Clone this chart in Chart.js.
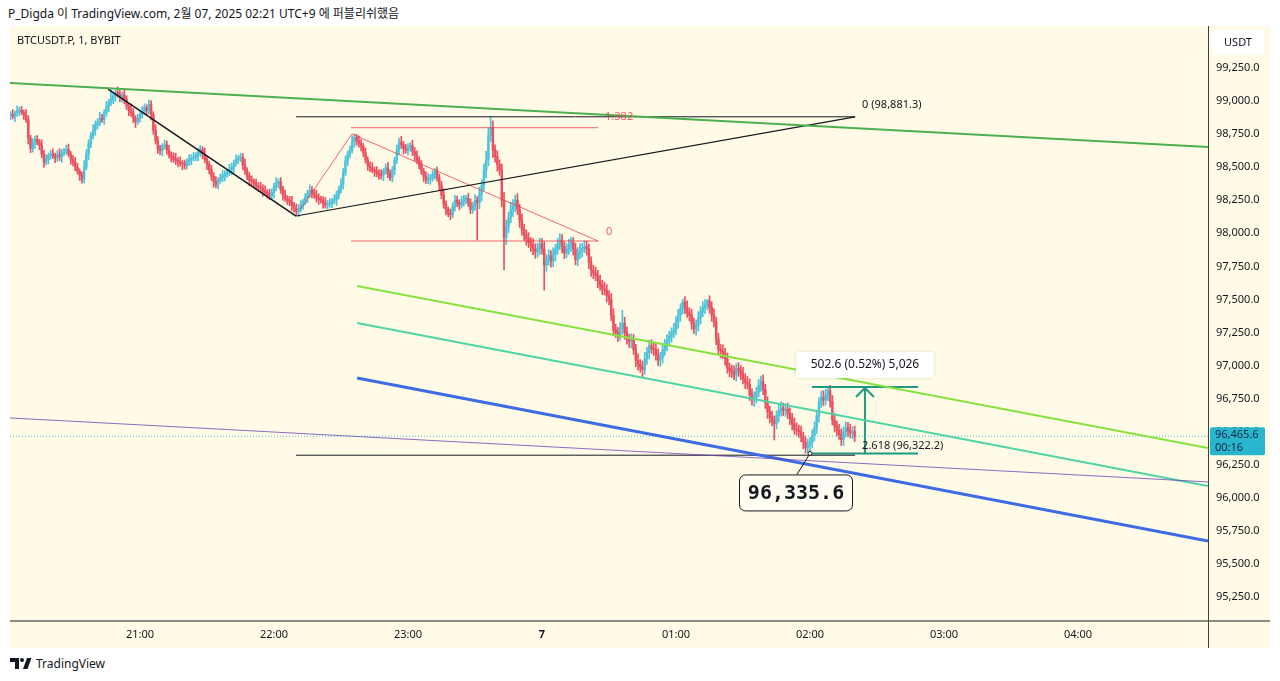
<!DOCTYPE html>
<html lang="ko">
<head>
<meta charset="UTF-8">
<title>BTCUSDT.P, 1, BYBIT</title>
<script src="https://cdn.jsdelivr.net/npm/chart.js@4.4.1/dist/chart.umd.min.js"></script>
<style>
  body { margin: 0; background: #fff; width: 1280px; height: 681px; position: relative; overflow: hidden;
         font-family: "Noto Sans", "Noto Sans CJK KR", sans-serif; color: #131722; }
  #hdr { position: absolute; left: 8px; top: 4px; font-size: 12px; white-space: nowrap; }
  #box { position: absolute; left: 10px; top: 26px; width: 1260px; height: 622px; }
  #sym { position: absolute; left: 17px; top: 32px; font-size: 11px; white-space: nowrap; }
  #foot { position: absolute; left: 10px; top: 655px; font-size: 12px; display: flex; align-items: center; gap: 4px; }
</style>
</head>
<body>
<div id="hdr">P_Digda 이 TradingView.com, 2월 07, 2025 02:21 UTC+9 에 퍼블리쉬했음</div>
<div id="box"><canvas id="c" width="1260" height="622"></canvas></div>
<div id="sym">BTCUSDT.P, 1, BYBIT</div>
<div id="foot">
  <svg width="22" height="11" viewBox="0 0 22 11"><path d="M0 0h9v11h-4v-7h-5z" fill="#131722"/><circle cx="12" cy="2" r="2" fill="#131722"/><path d="M13 11l4-11h4.5l-4 11z" fill="#131722"/></svg>
  <span>TradingView</span>
</div>
<script>
// minutes since 20:00; first candle at 20:02, one candle per minute
const startMinute = 2;
const firstOpen = 98890;
const closes = [
  98900, 98885, 98910, 98925, 98930, 98915, 98890, 98860, 98720, 98640,
  98680, 98710, 98690, 98665, 98600, 98540, 98560, 98590, 98600, 98585,
  98570, 98595, 98580, 98610, 98625, 98635, 98600, 98560, 98540, 98500,
  98470, 98440, 98410, 98500, 98600, 98680, 98740, 98780, 98820, 98840,
  98870, 98860, 98915, 98960, 98990, 99010, 99040, 99065, 99050, 99030,
  99045, 99010, 98960, 98930, 98910, 98870, 98845, 98870, 98900, 98920,
  98950, 98930, 98975, 98900, 98780, 98700, 98640, 98625, 98660, 98670,
  98630, 98595, 98580, 98560, 98550, 98540, 98530, 98525, 98515, 98540,
  98555, 98570, 98580, 98590, 98610, 98635, 98600, 98560, 98520, 98480,
  98430, 98390, 98370, 98400, 98420, 98440, 98450, 98460, 98480, 98500,
  98530, 98555, 98570, 98575, 98520, 98475, 98430, 98400, 98395, 98380,
  98360, 98350, 98340, 98320, 98310, 98300, 98285, 98310, 98350, 98380,
  98390, 98330, 98290, 98265, 98250, 98235, 98210, 98190, 98165, 98190,
  98215, 98240, 98270, 98300, 98325, 98310, 98290, 98270, 98255, 98250,
  98230, 98215, 98225, 98230, 98245, 98255, 98290, 98330, 98370, 98460,
  98550, 98600, 98630, 98690, 98725, 98700, 98680, 98660, 98610, 98555,
  98510, 98495, 98480, 98470, 98455, 98445, 98440, 98470, 98495, 98450,
  98420, 98480, 98555, 98630, 98690, 98670, 98640, 98630, 98650, 98665,
  98620, 98590, 98555, 98520, 98470, 98430, 98405, 98410, 98420, 98445,
  98465, 98420, 98365, 98290, 98220, 98180, 98150, 98140, 98200, 98250,
  98230, 98215, 98240, 98260, 98265, 98230, 98180, 98210, 98250, 98230,
  98300, 98365, 98480, 98560, 98740, 98800, 98630, 98580, 98520, 98480,
  98250, 97970, 98050, 98120, 98180, 98210, 98250, 98180, 98100, 98030,
  97990, 97960, 97930, 97910, 97880, 97860, 97890, 97920, 97880, 97760,
  97800, 97830, 97790, 97840, 97880, 97920, 97950, 97900, 97850, 97880,
  97910, 97930, 97880, 97800, 97850, 97870, 97890, 97900, 97880, 97780,
  97720, 97700, 97680, 97640, 97610, 97580, 97570, 97530, 97500, 97380,
  97270, 97250, 97230, 97280, 97320, 97250, 97200, 97180, 97195, 97120,
  97040, 97010, 96990, 96970, 97050, 97100, 97150, 97130, 97120, 97080,
  97040, 97060, 97120, 97160, 97190, 97220, 97250, 97270, 97330, 97380,
  97430, 97480, 97440, 97400, 97380, 97320, 97280, 97300, 97360, 97410,
  97440, 97460, 97490, 97440, 97380, 97330, 97200, 97120, 97110, 97090,
  97050, 96980, 96960, 96950, 96930, 96980, 96960, 96940, 96900, 96870,
  96860, 96780, 96740, 96760, 96800, 96850, 96880, 96820, 96720, 96650,
  96610, 96580, 96560, 96620, 96660, 96680, 96660, 96670, 96640, 96600,
  96560, 96520, 96510, 96500, 96460, 96420, 96380, 96400, 96420, 96470,
  96530, 96620, 96720, 96760, 96740, 96780, 96810, 96730, 96590, 96540,
  96510, 96480, 96440, 96500, 96530, 96510, 96490, 96500, 96465.6
];
// wick length above / below the body of each candle (USDT)
const upWick = [
  20, 35, 15, 40, 25, 30, 18, 45, 30, 22,  38, 25, 30, 20, 42, 28, 35, 18, 26, 40,
  22, 30, 45, 25, 18, 33, 40, 20, 28, 35,  30, 18, 25, 50, 35, 28, 22, 40, 30, 26,
  45, 30, 20, 38, 25, 35, 28, 18, 42, 30,  25, 40, 30, 22, 48, 35, 20, 30, 26, 38,
  30, 22, 35, 28, 20, 40, 32, 25, 18, 36,  28, 35, 22, 30, 45, 25, 38, 20, 30, 26,
  40, 25, 32, 20, 35, 28, 22, 45, 30, 24,  33, 28, 40, 22, 30, 36, 25, 20, 42, 30,
  26, 38, 20, 32, 28, 44, 22, 30, 35, 18,  30, 24, 36, 28, 40, 20, 34, 26, 30, 42,
  22, 32, 28, 38, 20, 30, 45, 25, 33, 28,  35, 20, 30, 26, 42, 28, 22, 36, 30, 24,
  28, 40, 25, 32, 20, 38, 30, 26, 44, 30,  36, 22, 30, 45, 28, 24, 38, 30, 20, 34,
  24, 30, 40, 22, 34, 28, 36, 20, 30, 42,  30, 26, 22, 38, 30, 44, 25, 32, 28, 20,
  40, 28, 34, 24, 30, 22, 36, 42, 26, 30,  25, 36, 28, 30, 48, 26, 20, 34, 30, 38,
  32, 24, 40, 28, 22, 36, 30, 26, 44, 28,  50, 40, 45, 60, 55, 30, 50, 40, 45, 35,
  45, 60, 50, 40, 55, 45, 38, 50, 42, 48,  40, 35, 45, 38, 50, 42, 36, 44, 40, 55,
  38, 45, 40, 50, 36, 44, 48, 40, 35, 42,  45, 40, 38, 46, 42, 50, 36, 44, 40, 38,
  42, 38, 46, 40, 44, 36, 50, 42, 38, 45,  50, 44, 40, 48, 38, 46, 42, 36, 45, 40,
  40, 48, 36, 44, 50, 38, 42, 46, 40, 44,  46, 40, 50, 38, 44, 42, 36, 48, 40, 45,
  38, 44, 42, 50, 36, 46, 40, 44, 48, 38,  44, 40, 46, 38, 42, 50, 36, 44, 40, 46,
  40, 46, 38, 44, 48, 36, 42, 40, 46, 38,  48, 38, 44, 42, 36, 46, 40, 50, 38, 44,
  42, 46, 40, 38, 44, 48, 36, 42, 46, 40,  38, 44, 46, 40, 42, 36, 48, 44, 38, 46,
  44, 40, 38, 46, 50, 42, 36, 40, 44, 48,  40, 46, 42, 38, 44, 40, 46, 38, 42
];
const downWick = [
  30, 20, 40, 25, 35, 18, 28, 22, 45, 30,  25, 38, 20, 32, 28, 40, 22, 35, 30, 18,
  35, 26, 30, 42, 24, 28, 20, 38, 30, 26,  22, 40, 30, 28, 20, 45, 32, 26, 38, 30,
  28, 22, 36, 30, 40, 24, 30, 42, 20, 34,  38, 30, 24, 40, 26, 32, 45, 22, 30, 28,
  20, 34, 28, 42, 30, 24, 36, 30, 40, 22,  32, 26, 40, 24, 30, 38, 22, 44, 28, 30,
  26, 36, 22, 30, 42, 28, 34, 24, 38, 30,  30, 40, 26, 34, 22, 30, 44, 28, 24, 36,
  42, 22, 30, 26, 38, 30, 24, 40, 28, 34,  24, 36, 28, 40, 22, 34, 30, 26, 44, 28,
  36, 28, 40, 24, 32, 26, 38, 30, 22, 40,  28, 34, 24, 38, 30, 42, 26, 32, 36, 22,
  40, 24, 32, 28, 36, 22, 44, 30, 26, 34,  26, 38, 30, 22, 40, 34, 28, 36, 30, 24,
  34, 28, 22, 40, 26, 36, 30, 42, 24, 30,  22, 32, 38, 26, 34, 28, 40, 24, 36, 30,
  30, 44, 26, 32, 24, 38, 28, 30, 40, 26,  36, 26, 34, 28, 30, 40, 24, 36, 22, 32,
  28, 38, 24, 34, 40, 26, 32, 28, 36, 44,  45, 55, 40, 60, 50, 45, 55, 42, 50, 40,
  50, 42, 55, 45, 40, 52, 46, 38, 55, 44,  44, 50, 38, 46, 42, 48, 40, 52, 38, 46,
  48, 40, 46, 42, 50, 38, 44, 48, 40, 36,  40, 48, 44, 38, 46, 42, 50, 36, 44, 48,
  46, 42, 38, 50, 40, 44, 36, 48, 42, 40,  42, 38, 48, 40, 44, 50, 38, 42, 46, 36,
  48, 44, 40, 46, 36, 42, 50, 38, 44, 40,  38, 46, 42, 44, 50, 36, 46, 40, 38, 48,
  44, 40, 48, 36, 42, 46, 38, 50, 40, 44,  40, 48, 36, 44, 46, 38, 42, 40, 50, 36,
  46, 38, 44, 40, 36, 48, 42, 46, 38, 44,  38, 44, 40, 48, 42, 36, 46, 40, 44, 50,
  44, 36, 46, 40, 48, 42, 38, 44, 40, 46,  46, 40, 38, 44, 36, 48, 42, 38, 46, 40,
  40, 44, 48, 36, 42, 40, 46, 44, 38, 42,  42, 38, 44, 46, 40, 48, 36, 42, 40
];
// candle index -> exact [high, low] where a spike sticks out
const spikes = {
  32: [null, 98380], 45: [99085, null], 128: [null, 98140], 154: [98750, null],
  209: [null, 97950], 215: [98881, null], 221: [null, 97723], 239: [null, 97571],
  274: [97420, null], 283: [null, 96914], 301: [97500, null], 312: [97500, null],
  342: [null, 96437], 358: [null, 96335.6], 366: [96838.2, null]
};

const yTicks = [95250, 95500, 95750, 96000, 96250, 96500, 96750, 97000, 97250,
                97500, 97750, 98000, 98250, 98500, 98750, 99000, 99250];
const xTickValues = [60, 120, 180, 240, 300, 360, 420, 480];
const xTickLabels = ['21:00', '22:00', '23:00', '7', '01:00', '02:00', '03:00', '04:00'];

// drawings: [minute, price] pairs
const greenTrend = [[1.8, 99137], [538.2, 98653]];
const blackDown = [[45.7, 99091], [129.9, 98131]];
const blackUp = [[129.9, 98131], [380.2, 98881.3]];
const fibTop = [[129.9, 98881.3], [380.2, 98881.3]];
const fibBottom = [[129.9, 96322.2], [380.2, 96322.2]];
const redPath = [[131.6, 98176], [154.9, 98751], [265.1, 97942]];
const redTop = [[154.5, 98799], [265.1, 98799]];
const redBottom = [[154.5, 97942], [265.1, 97942]];
const limeChan = [[157.2, 97602], [538.2, 96377]];
const aquaChan = [[157.2, 97322], [538.2, 96090]];
const blueChan = [[157.2, 96906], [538.2, 95674]];
const purpleLine = [[1.8, 96604], [538.2, 96120]];
const lastPrice = 96465.6;
const rangeLow = 96335.6, rangeHigh = 96838.2;
const rangeFrom = 360.9, rangeTo = 408.4, rangeArrowAt = 384.6;
const lowMark = [360, 96335.6];

const BG = '#fffbe6';
const UP = '#4cc3dc';
const DOWN = '#e94f5f';
const TEAL = '#1e9a80';

const bodies = [], sticks = [], colors = [];
let prev = firstOpen;
closes.forEach((c, i) => {
  const o = prev, x = startMinute + i;
  const sp = spikes[i] || [null, null];
  const hi = sp[0] != null ? sp[0] : Math.max(o, c) + upWick[i];
  const lo = sp[1] != null ? sp[1] : Math.min(o, c) - downWick[i];
  bodies.push({x: x, y: [Math.min(o, c), Math.max(o, c)]});
  sticks.push({x: x, y: [lo, hi]});
  colors.push(c >= o ? UP : DOWN);
  prev = c;
});

const seg = (pts, color, width, dash) => ({
  type: 'line',
  data: pts.map(p => ({x: p[0], y: p[1]})),
  borderColor: color, borderWidth: width, borderDash: dash || [],
  pointRadius: 0, fill: false, tension: 0, order: 1
});

const deco = {
  id: 'deco',
  beforeDraw(chart) {
    const {ctx, width, height} = chart;
    ctx.save();
    ctx.fillStyle = BG;
    ctx.fillRect(0, 0, width, height);
    ctx.restore();
  },
  afterDraw(chart) {
    const {ctx, chartArea: a, width, height} = chart;
    const sx = chart.scales.x, sy = chart.scales.y;
    const px = v => sx.getPixelForValue(v), py = p => sy.getPixelForValue(p);
    const txt = (s, X, Y, font, color, align, base) => {
      ctx.font = font; ctx.fillStyle = color;
      ctx.textAlign = align || 'left'; ctx.textBaseline = base || 'middle';
      ctx.fillText(s, X, Y);
    };
    const rbox = (X, Y, w, h, r) => {
      ctx.beginPath();
      ctx.roundRect(X, Y, w, h, r);
    };
    ctx.save();

    // pane separators
    ctx.strokeStyle = '#8c8b84'; ctx.lineWidth = 2;
    ctx.beginPath(); ctx.moveTo(0, a.bottom + 1); ctx.lineTo(width, a.bottom + 1); ctx.stroke();
    ctx.strokeStyle = '#3c3f48'; ctx.lineWidth = 1;
    ctx.beginPath(); ctx.moveTo(a.right + 0.5, 0); ctx.lineTo(a.right + 0.5, height); ctx.stroke();

    // fib labels
    const f11 = '11px "Noto Sans", sans-serif';
    txt('0 (98,881.3)', px(380.2) + 7, py(98881.3) - 12, f11, '#131722');
    txt('2.618 (96,322.2)', px(380.2) + 7, py(96322.2) - 9, f11, '#131722');
    txt('1.382', px(265.1) + 7, py(98799) - 11, f11, 'rgba(242,54,69,0.8)');
    txt('0', px(265.1) + 8, py(97942) - 9, f11, 'rgba(242,54,69,0.8)');

    // range tool arrow + label
    const ax = px(rangeArrowAt), ay = py(rangeHigh) + 1;
    ctx.strokeStyle = TEAL; ctx.lineWidth = 2;
    ctx.beginPath(); ctx.moveTo(ax - 9, ay + 9); ctx.lineTo(ax, ay); ctx.lineTo(ax + 9, ay + 9); ctx.stroke();
    ctx.shadowColor = 'rgba(0,0,0,0.15)'; ctx.shadowBlur = 3;
    ctx.fillStyle = '#ffffff';
    rbox(ax - 69, py(rangeHigh) - 35, 138, 26, 3); ctx.fill();
    ctx.shadowBlur = 0; ctx.shadowColor = 'transparent';
    txt('502.6 (0.52%) 5,026', ax, py(rangeHigh) - 22, '12px "Noto Sans", sans-serif', '#131722', 'center');

    // low callout
    const lx = px(lowMark[0]), ly = py(lowMark[1]);
    ctx.strokeStyle = '#131722'; ctx.lineWidth = 1;
    ctx.beginPath(); ctx.moveTo(lx, ly); ctx.lineTo(lx - 13, ly + 21); ctx.stroke();
    ctx.beginPath(); ctx.arc(lx, ly, 2, 0, Math.PI * 2); ctx.fillStyle = BG; ctx.fill(); ctx.stroke();
    ctx.fillStyle = '#fffdf2';
    rbox(lx - 70.5, ly + 21.5, 113, 36, 6); ctx.fill(); ctx.stroke();
    txt('96,335.6', lx - 14, ly + 40, 'bold 20px "DejaVu Sans Mono", monospace', '#131722', 'center');

    // price scale labels
    const ty = py(lastPrice);
    ctx.fillStyle = '#29b6cc';
    rbox(a.right + 2, ty - 9, 55, 28, 2); ctx.fill();
    txt('96,465.6', a.right + 7, ty - 1, f11, '#102a43');
    txt('00:16', a.right + 7, ty + 12, f11, '#102a43');
    ctx.fillStyle = '#ffffff';
    rbox(a.right + 4, 4, 53, 25, 4); ctx.fill();
    txt('USDT', a.right + 30, 17, f11, '#131722', 'center');

    ctx.restore();
  }
};

new Chart(document.getElementById('c'), {
  type: 'bar',
  data: {
    datasets: [
      seg(greenTrend, '#4caf50', 2),
      seg(purpleLine, 'rgba(103,58,183,0.75)', 1),
      seg(blueChan, '#3d6be3', 3),
      seg(aquaChan, '#4fd4a8', 2),
      seg(limeChan, '#86e33c', 2),
      seg(blackDown, '#131722', 1.5),
      seg(blackUp, '#131722', 1.2),
      seg(fibTop, '#131722', 1),
      seg(fibBottom, '#131722', 1),
      seg(redPath, 'rgba(242,54,69,0.75)', 1),
      seg(redTop, 'rgba(242,54,69,0.75)', 1),
      seg(redBottom, 'rgba(242,54,69,0.75)', 1),
      seg([[1.8, lastPrice], [538.2, lastPrice]], '#3cc6da', 1, [1, 2]),
      seg([[rangeFrom, rangeHigh], [rangeTo, rangeHigh]], TEAL, 2),
      seg([[rangeFrom, rangeLow], [rangeTo, rangeLow]], TEAL, 2),
      seg([[rangeArrowAt, rangeLow], [rangeArrowAt, rangeHigh]], TEAL, 2),
      {
        data: sticks, backgroundColor: colors, barThickness: 1,
        grouped: false, borderWidth: 0, order: 10
      },
      {
        data: bodies, backgroundColor: colors, barThickness: 1.8, minBarLength: 1,
        grouped: false, borderWidth: 0, order: 9
      }
    ]
  },
  options: {
    responsive: false,
    animation: false,
    layout: {padding: 0},
    plugins: {legend: {display: false}, tooltip: {enabled: false}},
    scales: {
      x: {
        type: 'linear', min: 1.8, max: 538.2, offset: false,
        grid: {display: false, drawTicks: false, offset: false},
        border: {display: false},
        afterBuildTicks: s => { s.ticks = xTickValues.map(v => ({value: v})); },
        afterFit: s => { s.height = 28; s.paddingLeft = 0; s.paddingRight = 0; },
        ticks: {
          autoSkip: false, maxRotation: 0, padding: 8, color: '#131722',
          font: c => ({family: 'Noto Sans', size: 11, weight: c.tick && c.tick.value === 240 ? 'bold' : 'normal'}),
          callback: v => xTickLabels[xTickValues.indexOf(v)]
        }
      },
      y: {
        position: 'right', min: 95076, max: 99568, beginAtZero: false,
        grid: {display: false, drawTicks: false},
        border: {display: false},
        afterBuildTicks: s => { s.ticks = yTicks.map(v => ({value: v})); },
        afterFit: s => { s.width = 62; s.paddingTop = 0; s.paddingBottom = 0; },
        ticks: {
          padding: 8, color: '#131722', font: {family: 'Noto Sans', size: 11},
          callback: v => v.toLocaleString('en-US', {minimumFractionDigits: 1, maximumFractionDigits: 1})
        }
      }
    }
  },
  plugins: [deco]
});
</script>
</body>
</html>
